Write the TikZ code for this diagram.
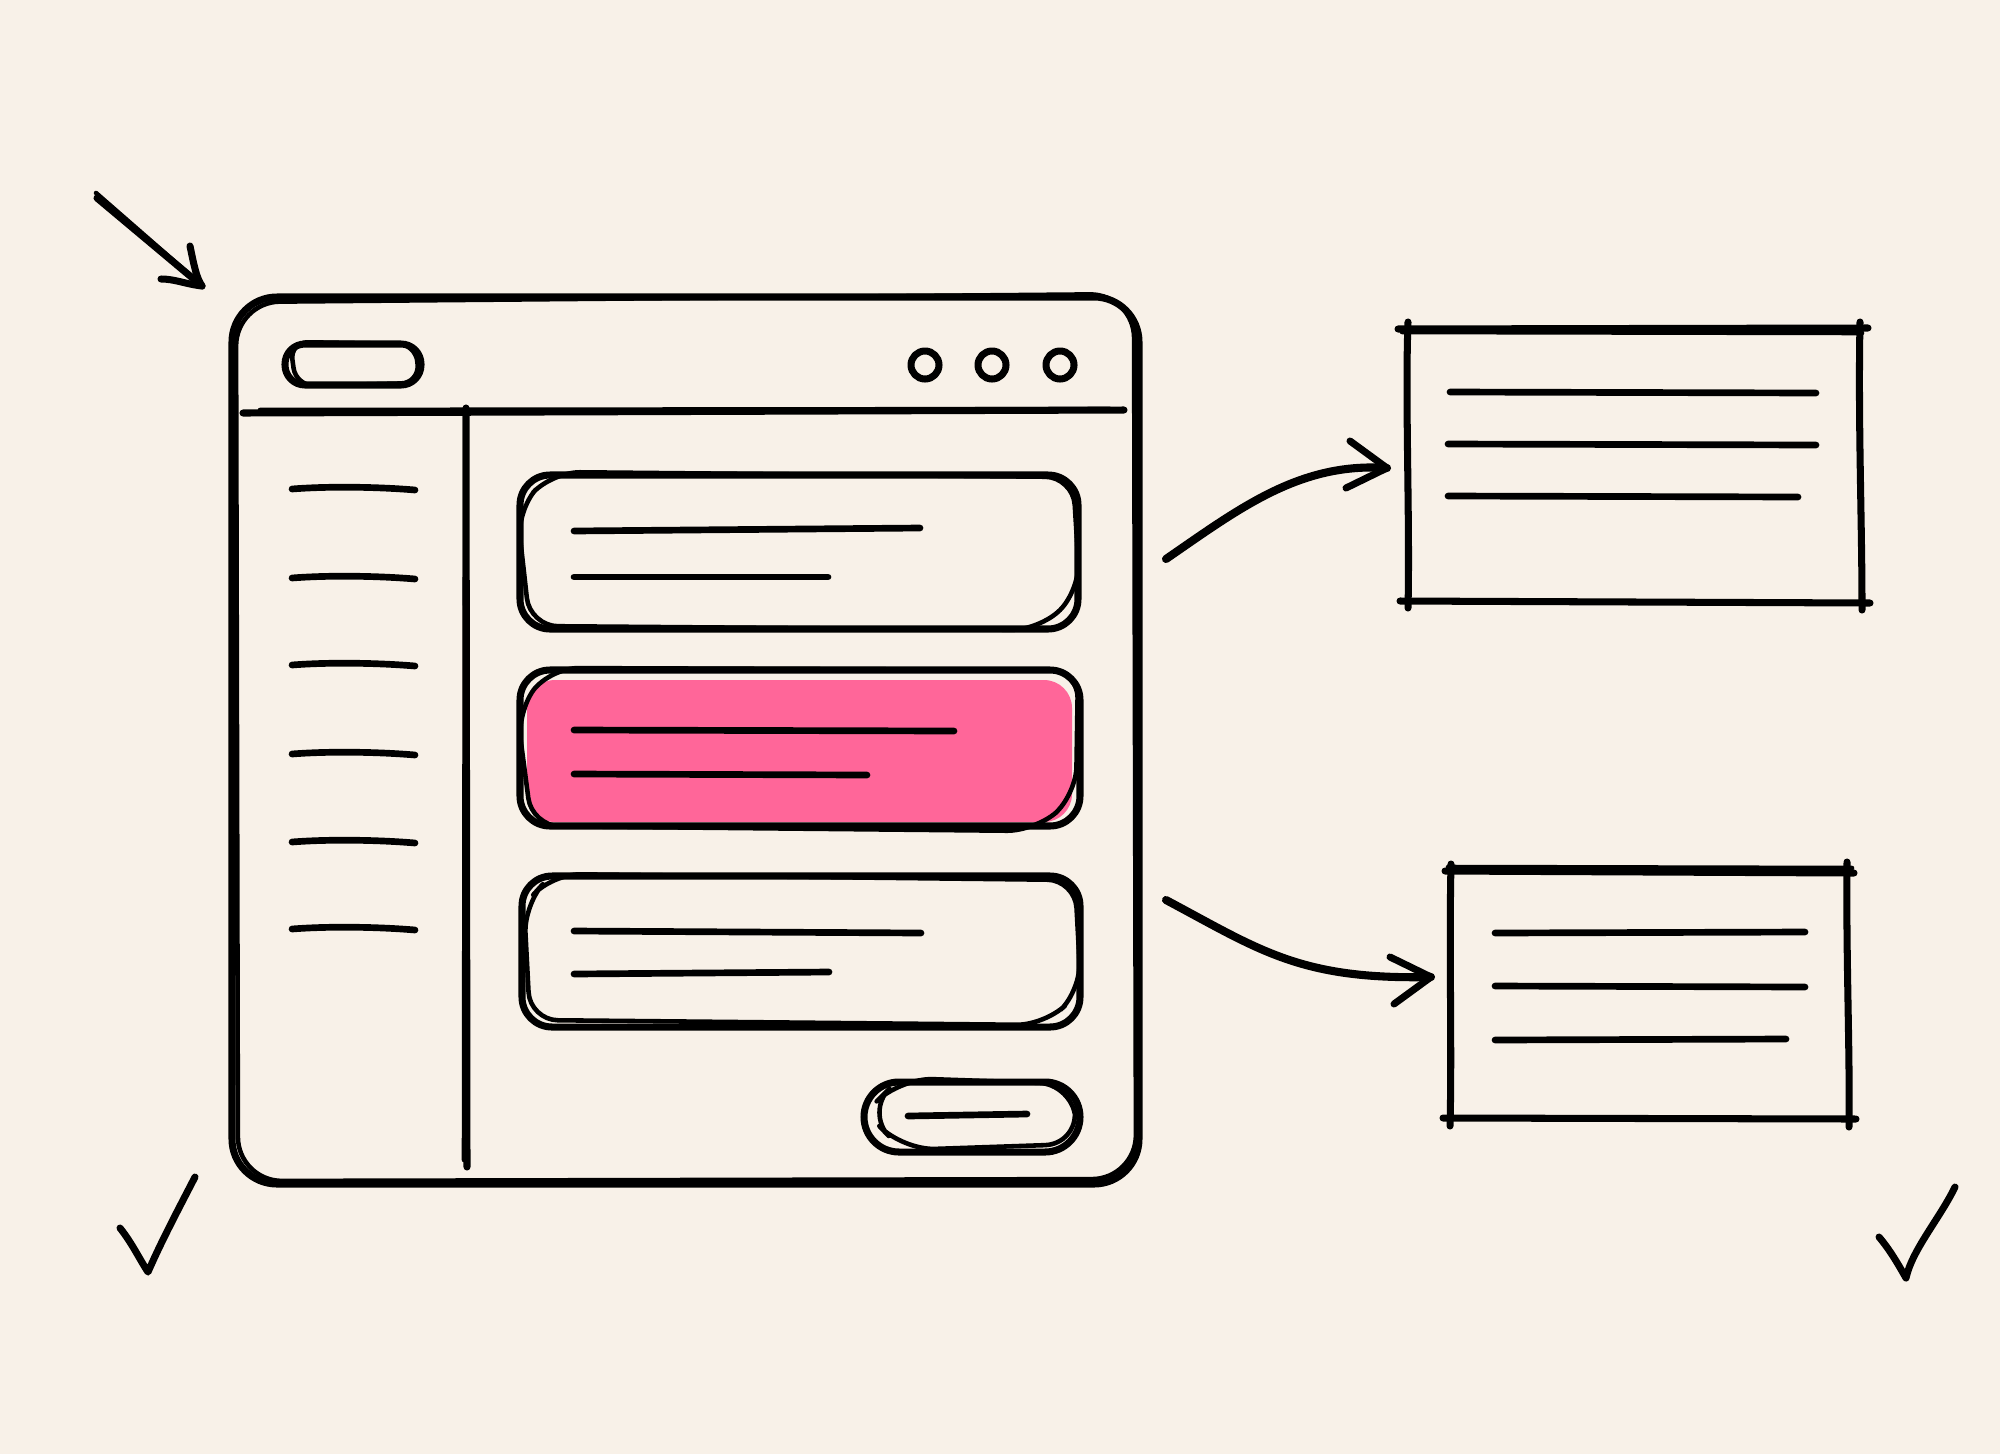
\documentclass[tikz,border=0pt]{standalone}
\definecolor{bg}{HTML}{F8F1E8}
\definecolor{pinkfill}{HTML}{FF6699}
\begin{document}
\begin{tikzpicture}[x=0.01cm,y=-0.01cm,
  sk/.style={line width=2pt,line cap=round,line join=round,black},
  skt/.style={line width=1.3pt,line cap=round,line join=round,black},
  txt/.style={line width=1.9pt,line cap=round,black}]
\fill[bg] (0,0) rectangle (2000,1454);
\useasboundingbox (0,0) rectangle (2000,1454);

% ---------- main window ----------
\draw[sk,rounded corners=0.45cm] (232,297) rectangle (1139,1184);
\draw[skt,rounded corners=0.44cm] (236,302) -- (1134,294) -- (1136,1179) -- (238,1181) -- cycle;
% header line
\draw[sk] (243,413) -- (1124,410);
\draw[skt] (260,410) -- (1110,409);
% sidebar divider
\draw[sk] (466,408) -- (467,1167);
\draw[skt] (465,412) -- (464,1160);
% top-left pill
\draw[sk,rounded corners=0.2cm] (285,344) rectangle (421,385);
\draw[skt,rounded corners=0.18cm] (290,342) -- (416,344) -- (419,383) -- (296,386) -- cycle;
% window dots
\draw[sk] (925,365) circle (14);
\draw[sk] (992,365) circle (14);
\draw[sk] (1060,365) circle (14);
% sidebar menu lines
\foreach \yy in {489,578,665,754,842,929}
  \draw[txt] (292,\yy) .. controls (330,\yy-3) and (380,\yy-2) .. (415,\yy+1);

% ---------- card 1 ----------
\draw[sk,rounded corners=0.3cm] (520,475) rectangle (1078,629);
\draw[skt,rounded corners=0.28cm] (552,472) -- (1073,477) -- (1080,590) -- (1040,630) -- (530,626) -- (517,510) -- cycle;
\draw[txt] (574,531) -- (920,528);
\draw[txt] (574,577) -- (828,577);

% ---------- card 2 (highlighted) ----------
\fill[pinkfill,rounded corners=0.28cm] (527,680) rectangle (1072,822);
\draw[sk,rounded corners=0.3cm] (520,670) rectangle (1080,826);
\draw[skt,rounded corners=0.28cm] (550,668) -- (1078,670) -- (1076,795) -- (1035,831) -- (532,826) -- (517,712) -- cycle;
\draw[txt] (574,730) -- (954,731);
\draw[txt] (574,774) -- (867,775);

% ---------- card 3 ----------
\draw[sk,rounded corners=0.3cm] (522,876) rectangle (1080,1027);
\draw[skt,rounded corners=0.28cm] (552,874) -- (1075,880) -- (1081,990) -- (1045,1025) -- (530,1020) -- (524,905) -- cycle;
\draw[txt] (574,931) -- (921,933);
\draw[txt] (574,974) -- (829,972);

% ---------- button ----------
\draw[sk,rounded corners=0.35cm] (864,1082) rectangle (1080,1152);
\draw[skt,rounded corners=0.33cm] (900,1078) -- (1072,1084) -- (1078,1144) -- (902,1150) -- (866,1112) -- cycle;
\draw[txt] (908,1116) -- (1027,1114);

% ---------- right box 1 ----------
\draw[sk] (1398,329) -- (1868,328);
\draw[skt] (1402,332) -- (1862,333);
\draw[sk] (1400,601) -- (1870,603);
\draw[sk] (1408,322) .. controls (1405,400) and (1410,520) .. (1408,608);
\draw[sk] (1860,322) .. controls (1858,420) and (1862,520) .. (1862,610);
\draw[txt] (1450,392) -- (1816,393);
\draw[txt] (1448,444) -- (1816,445);
\draw[txt] (1448,496) -- (1798,497);

% ---------- right box 2 ----------
\draw[sk] (1445,871) -- (1854,873);
\draw[skt] (1448,867) -- (1852,868);
\draw[sk] (1443,1118) -- (1856,1119);
\draw[sk] (1451,864) .. controls (1449,950) and (1452,1050) .. (1450,1126);
\draw[sk] (1847,862) .. controls (1846,960) and (1850,1050) .. (1849,1127);
\draw[txt] (1495,933) -- (1805,932);
\draw[txt] (1495,986) -- (1805,987);
\draw[txt] (1495,1040) -- (1786,1039);

% ---------- connectors ----------
\coordinate (a1s) at (1166,559);
\coordinate (a1e) at (1387,468);
\coordinate (a1u) at (1350,441);
\coordinate (a1l) at (1346,488);
\draw[sk,line width=2.3pt] (a1s) .. controls (1240,508) and (1300,462) .. (a1e);
\draw[sk] (a1u) -- (a1e) -- (a1l);

\coordinate (a2s) at (1166,900);
\coordinate (a2e) at (1431,977);
\coordinate (a2u) at (1390,957);
\coordinate (a2l) at (1394,1004);
\draw[sk,line width=2.3pt] (a2s) .. controls (1260,950) and (1300,980) .. (a2e);
\draw[sk] (a2u) -- (a2e) -- (a2l);

\coordinate (a3s) at (97,198);
\coordinate (a3e) at (202,286);
\coordinate (a3u) at (190,246);
\coordinate (a3l) at (161,279);
\draw[sk] (a3s) -- (a3e);
\draw[skt] (96,193) -- (198,282);
\draw[sk] (a3u) .. controls (194,265) and (196,277) .. (a3e) .. controls (185,284) and (175,279) .. (a3l);

% ---------- check marks ----------
\draw[sk] (120,1228) .. controls (132,1243) and (140,1260) .. (148,1272) .. controls (162,1240) and (178,1210) .. (195,1177);
\draw[sk] (1879,1237) .. controls (1890,1250) and (1898,1264) .. (1906,1278) .. controls (1912,1250) and (1940,1218) .. (1955,1187);
\end{tikzpicture}
\end{document}
